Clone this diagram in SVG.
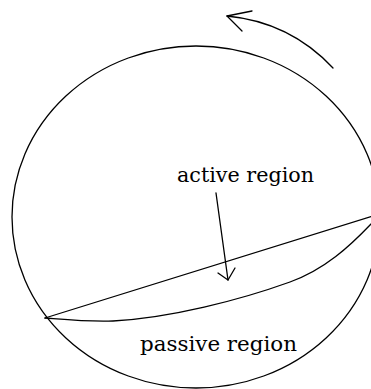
<svg xmlns="http://www.w3.org/2000/svg" width="371" height="389" viewBox="0 0 371 389">
  <style>
    .ln { fill: none; stroke: #000; stroke-width: 1.3; stroke-linecap: round; stroke-linejoin: round; }
    .lbl { font-family: "DejaVu Serif", "Liberation Serif", serif; font-size: 20px; fill: #000; }
  </style>
  <rect width="371" height="389" fill="#fff"/>
  <g id="disk">
    <ellipse class="ln" cx="196" cy="217" rx="184" ry="171"/>
  </g>
  <g id="chord">
    <path class="ln" d="M45,318 L371,216.5"/>
  </g>
  <g id="lower-curve">
    <path class="ln" d="M45,318 C70,320 90,322 113,321 C170,318 240,300 290,282 C325,269.4 350,246 371,224"/>
  </g>
  <g id="active-label">
    <text class="lbl" x="177" y="182" textLength="137" lengthAdjust="spacingAndGlyphs">active region</text>
  </g>
  <g id="passive-label">
    <text class="lbl" x="140" y="351" textLength="157" lengthAdjust="spacingAndGlyphs">passive region</text>
  </g>
  <g id="connectors">
    <path class="ln" d="M216,193 L228,280"/>
    <path class="ln" d="M218,273 L228,280 L235,268"/>
    <path class="ln" d="M333,68 Q290,22 227,16"/>
    <path class="ln" d="M252,11 L227,16 L242,31" stroke-width="1.6"/>
  </g>
</svg>
